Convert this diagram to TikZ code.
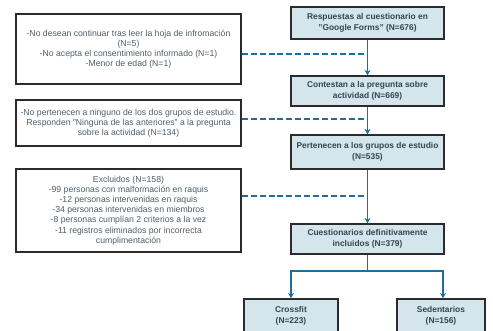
\documentclass[tikz,border=0pt]{standalone}
\usepackage{fontspec}
\setmainfont{Liberation Sans}
\usetikzlibrary{arrows.meta}
\definecolor{boxfill}{HTML}{D5E5EC}
\definecolor{boxline}{HTML}{2B2B2B}
\definecolor{flowblue}{HTML}{1F6E9E}
\definecolor{maintext}{HTML}{33454F}
\definecolor{sidetext}{HTML}{4F5F69}
\begin{document}
\begin{tikzpicture}[x=0.75pt, y=-0.75pt,
		stagebox/.style={draw=boxline, line width=1.1pt, fill=boxfill, text=maintext, font=\fontsize{6.3}{8.2}\selectfont\bfseries, align=center, inner sep=0pt, minimum width=114.75pt},
		sidebox/.style={draw=boxline, line width=1.1pt, fill=white, text=sidetext, font=\fontsize{6.5}{7.6}\selectfont, align=center, inner sep=0pt, minimum width=168.75pt},
		flow/.style={draw=flowblue, line width=1.1pt, -{Stealth[length=4pt, width=4.5pt]}},
		branch/.style={draw=flowblue, line width=1.1pt},
		skip/.style={draw=flowblue, line width=1.1pt, dash pattern=on 4.5pt off 2.2pt}]
		\clip (0, 0) rectangle (493, 330);
		\useasboundingbox (0, 0) rectangle (493, 330);
		\node[stagebox, minimum height=24pt] (resp) at (367.5, 23) {Respuestas al cuestionario en\\"Google Forms" (N=676)};
		\node[stagebox, minimum height=22.5pt] (cont) at (367.5, 91) {Contestan a la pregunta sobre\\actividad (N=669)};
		\node[stagebox, minimum height=25.5pt] (pert) at (367.5, 152) {Pertenecen a los grupos de estudio\\(N=535)};
		\node[stagebox, minimum height=22.5pt] (incl) at (367.5, 239) {Cuestionarios definitivamente\\incluidos (N=379)};
		\node[stagebox, minimum width=70.5pt, minimum height=25.5pt] (cross) at (291, 316) {Crossfit\\(N=223)};
		\node[stagebox, minimum width=66pt, minimum height=25.5pt] (sed) at (441, 316) {Sedentarios\\(N=156)};
		\node[sidebox, minimum height=52.5pt] (nodes) at (128.5, 49) {-No desean continuar tras leer la hoja de infromación\\(N=5)\\-No acepta el consentimiento informado (N=1)\\-Menor de edad (N=1)};
		\node[sidebox, minimum height=34.5pt] (ninguno) at (128.5, 123) {-No pertenecen a ninguno de los dos grupos de estudio.\\Responden "Ninguna de las anteriores" a la pregunta\\sobre la actividad (N=134)};
		\node[sidebox, minimum height=62.25pt] (excl) at (128.5, 210.5) {Excluidos (N=158)\\-99 personas con malformación en raquis\\-12 personas intervenidas en raquis\\-34 personas intervenidas en miembros\\-8 personas cumplían 2 criterios a la vez\\-11 registros eliminados por incorrecta\\cumplimentación};
		\draw[flow] (resp) -- (cont);
		\draw[flow] (cont) -- (pert);
		\draw[flow] (pert) -- (incl);
		\coordinate (j1) at (367.5, 54);
		\coordinate (j2) at (367.5, 119);
		\coordinate (j3) at (367.5, 196);
		\draw[skip] (j1 -| nodes.east) -- (j1);
		\draw[skip] (j2 -| ninguno.east) -- (j2);
		\draw[skip] (j3 -| excl.east) -- (j3);
		\coordinate (split) at (367.5, 271);
		\draw[branch] (incl) -- (split);
		\draw[flow] (split) -| (cross.north);
		\draw[flow] (split) -| ([xshift=1.5pt]sed.north);
	\end{tikzpicture}
\end{document}
